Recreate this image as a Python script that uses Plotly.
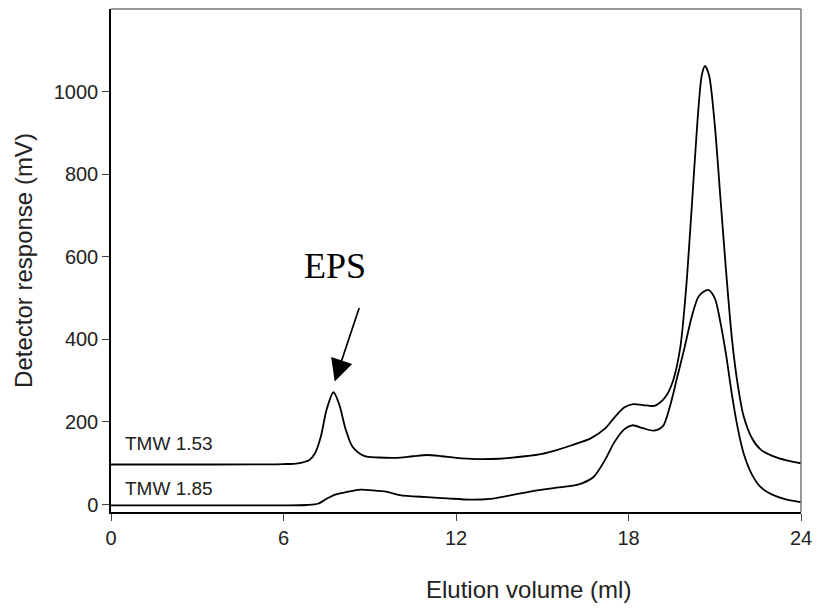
import plotly.graph_objects as go

# Elution volume (ml) and detector response (mV) for each strain
vol_153 = [0, 3, 6.0, 6.5, 6.9, 7.1, 7.3, 7.5, 7.74, 7.95, 8.15, 8.4, 8.8, 9.3, 9.9,
           10.5, 11.0, 11.5, 12.0, 12.7, 13.5, 14.4, 15.0, 15.5, 16.0, 16.7, 17.2,
           17.5, 17.85, 18.17, 18.5, 18.9, 19.1, 19.3, 19.55, 19.8, 20.0, 20.2, 20.4,
           20.55, 20.66, 20.8, 21.0, 21.2, 21.4, 21.6, 21.8, 22.0, 22.3, 22.6, 23.0,
           23.5, 24.0]
resp_153 = [97, 97, 98, 100, 108, 125, 165, 230, 272, 240, 185, 140, 118, 114, 113,
            117, 120, 117, 113, 110, 111, 117, 123, 132, 143, 161, 185,
            210, 235, 243, 241, 239, 247, 262, 300, 380, 520, 720, 930,
            1040, 1062, 1040, 920, 740, 560, 400, 290, 215, 160, 133, 118,
            107, 100]

vol_185 = [0, 3, 6.0, 6.8, 7.2, 7.5, 7.8, 8.1, 8.4, 8.7, 9.0, 9.3, 9.6, 9.8, 10.1,
           10.5, 11.0, 11.7, 12.5, 13.2, 13.8, 14.4, 15.0, 15.5, 16.0, 16.4, 16.8,
           17.2, 17.5, 17.85, 18.13, 18.5, 18.88, 19.2, 19.45, 19.7, 19.95, 20.2,
           20.45, 20.77, 21.0, 21.2, 21.4, 21.6, 21.8, 22.0, 22.3, 22.6, 23.0, 23.5, 24.0]
resp_185 = [-2, -2, -2, -1, 2, 14, 24, 29, 33, 36, 35, 33, 31, 27, 22,
            20, 18, 15, 12, 14, 21, 29, 36, 41, 45, 52, 68,
            110, 150, 182, 192, 185, 179, 190, 240, 310, 380, 455,
            505, 520, 500, 440, 360, 265, 185, 125, 72, 42, 24, 12, 6]

series_labels = ["TMW 1.53", "TMW 1.85"]
label_pos = [(0.4, 147), (0.4, 40)]
x_ticks = [0, 6, 12, 18, 24]
y_ticks = [0, 200, 400, 600, 800, 1000]
eps_peak = (7.78, 298)

fig = go.Figure()
for vx, vy in [(vol_153, resp_153), (vol_185, resp_185)]:
    fig.add_trace(go.Scatter(x=vx, y=vy, mode="lines",
                             line=dict(color="black", width=1.8, shape="spline", smoothing=0.8),
                             showlegend=False, hoverinfo="skip"))

sans = "Liberation Sans, Arial"
for lab, (lx, ly) in zip(series_labels, label_pos):
    fig.add_annotation(x=lx, y=ly, text=lab, showarrow=False, xanchor="left", yanchor="middle",
                       font=dict(family=sans, size=19, color="#222"))

fig.add_annotation(x=eps_peak[0], y=eps_peak[1], text="", showarrow=True,
                   ax=25, ay=-75, arrowhead=2, arrowsize=2.6, arrowwidth=1.7,
                   arrowcolor="black", standoff=0)
fig.add_annotation(x=7.8, y=578, text="EPS", showarrow=False, xanchor="center", yanchor="middle",
                   font=dict(family="Liberation Serif, Times New Roman, serif", size=36, color="black"))

# x-axis title (placed right of centre, as in the original)
fig.add_annotation(xref="paper", yref="paper", x=0.605, y=-0.155, text="Elution volume (ml)",
                   showarrow=False, xanchor="center", yanchor="middle",
                   font=dict(family=sans, size=24, color="#222"))

# top and right frame lines (grey)
fig.add_shape(type="line", xref="paper", yref="paper", x0=0, x1=1, y0=1, y1=1,
              line=dict(color="#777", width=1.5))
fig.add_shape(type="line", xref="paper", yref="paper", x0=1, x1=1, y0=0, y1=1,
              line=dict(color="#777", width=1.5))

fig.update_layout(
    width=821, height=614,
    margin=dict(l=111, r=12, t=9, b=102),
    plot_bgcolor="white", paper_bgcolor="white",
    xaxis=dict(range=[0, 24], tickvals=x_ticks, ticks="outside", ticklen=7, tickwidth=1.2,
               showline=True, linecolor="black", linewidth=1.5, showgrid=False, zeroline=False,
               tickfont=dict(family=sans, size=20, color="#222")),
    yaxis=dict(range=[-18, 1200], tickvals=y_ticks, ticks="outside", ticklen=7, tickwidth=1.2,
               showline=True, linecolor="black", linewidth=1.5, showgrid=False, zeroline=False,
               tickfont=dict(family=sans, size=20, color="#222"),
               title=dict(text="Detector response (mV)", standoff=14,
                          font=dict(family=sans, size=24, color="#222"))),
)

fig.write_html("out.html")
